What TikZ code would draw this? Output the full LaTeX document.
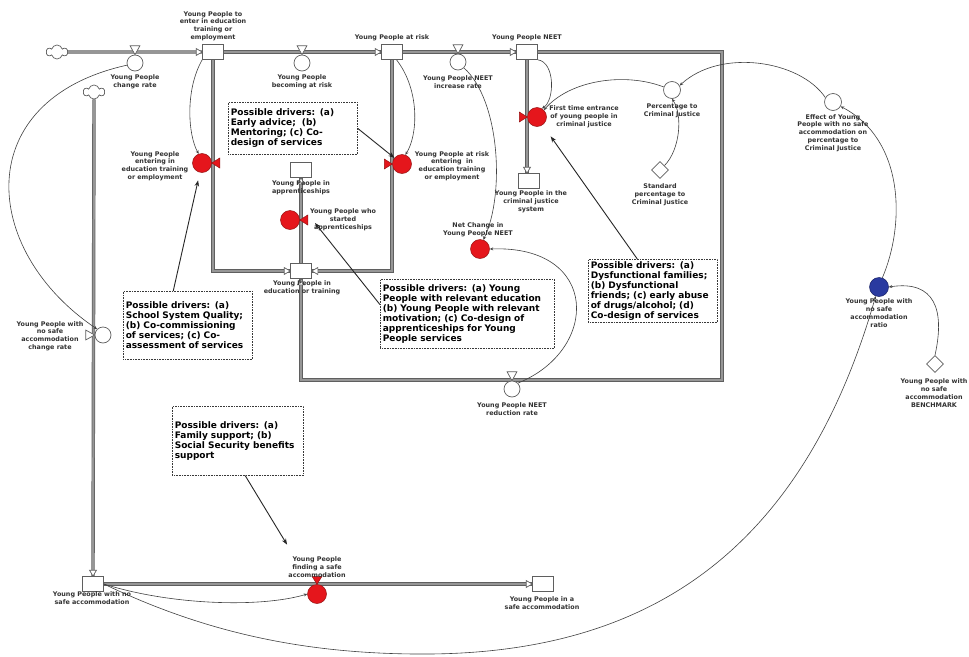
\documentclass[tikz,border=0pt]{standalone}
\usepackage{fontspec}
\setmainfont{DejaVu Sans}
\usetikzlibrary{arrows.meta,shapes.geometric,shapes.symbols}
\pgfdeclarelayer{bg}
\pgfsetlayers{bg,main}
\newcommand\lblfont{\fontsize{6.4}{7.8}\selectfont\bfseries}
\newcommand\drvfont{\fontsize{9}{10}\selectfont\bfseries}
\definecolor{vred}{RGB}{229,22,28}
\definecolor{vredline}{RGB}{150,20,20}
\definecolor{vblue}{RGB}{42,58,160}
\definecolor{vblueline}{RGB}{22,30,100}
\definecolor{pipeedge}{RGB}{95,95,95}
\definecolor{pipefill}{RGB}{150,150,150}
\definecolor{linkgray}{RGB}{65,65,65}

\begin{document}
\begin{tikzpicture}[x=1pt,y=-1pt,
  stock/.style={draw=pipeedge, line width=0.7pt, fill=white, minimum width=21pt, minimum height=15pt, inner sep=0pt},
  valve/.style={circle, draw=pipeedge, line width=0.7pt, fill=white, minimum size=16pt, inner sep=0pt},
  conv/.style={circle, draw=pipeedge, line width=0.7pt, fill=white, minimum size=17pt, inner sep=0pt},
  cnst/.style={diamond, draw=pipeedge, line width=0.7pt, fill=white, minimum size=17pt, inner sep=0pt},
  redvalve/.style={circle, draw=vredline, line width=0.5pt, fill=vred, minimum size=19pt, inner sep=0pt},
  bluevar/.style={circle, draw=vblueline, line width=0.5pt, fill=vblue, minimum size=19pt, inner sep=0pt},
  vtri/.style={draw=pipeedge, line width=0.7pt, fill=white, line join=round},
  rtri/.style={draw=vredline, line width=0.5pt, fill=vred},
  ptip/.style={draw=pipeedge, line width=0.7pt, fill=white},
  cloudshape/.style={cloud, cloud puffs=6, draw=pipeedge, line width=0.7pt, fill=white, minimum width=21pt, minimum height=14pt, inner sep=0pt},
  pipe/.style={draw=pipeedge, line width=0.7pt, double=pipefill, double distance=2pt},
  link/.style={draw=linkgray, line width=0.6pt, -{Stealth[length=3.5pt,width=3pt]}},
  driver/.style={draw=black!85, line width=0.9pt, -{Stealth[length=6pt,width=4.5pt]}},
  lbl/.style={font=\lblfont, align=center, text=black!80, inner sep=0pt},
  drvbox/.style={draw=gray!45!black, densely dotted, line width=0.6pt, fill=white, anchor=north west, align=left, inner xsep=2.5pt, inner ysep=0pt, font=\drvfont, text=black}
]
\useasboundingbox (0,0) rectangle (969,656);
\begin{pgfonlayer}{bg}
  \fill[white] (0,0) rectangle (969,656);
\end{pgfonlayer}

% ---------- stocks ----------
\node[stock] (sEnter)  at (213,52)  {};
\node[stock] (sRisk)   at (392,52)  {};
\node[stock] (sNEET)   at (527,52)  {};
\node[stock] (sApp)    at (301,170) {};
\node[stock] (sEdu)    at (301,271) {};
\node[stock] (sCJ)     at (529,181) {};
\node[stock] (sNoSafe) at (93,584)  {};
\node[stock] (sSafe)   at (543,584) {};

% ---------- sources ----------
\node[cloudshape] (cA) at (57,52) {};
\node[cloudshape] (cB) at (94,92) {};

% ---------- flow valves ----------
\node[valve] (vChange)   at (135,63)  {};
\node[valve] (vBecome)   at (302,63)  {};
\node[valve] (vIncrease) at (458,62)  {};
\node[valve] (vReduce)   at (512,389) {};
\node[valve] (vNoSafe)   at (103,335) {};

\node[redvalve] (rEnter) at (202,163) {};
\node[redvalve] (rRisk)  at (402,164) {};
\node[redvalve] (rFirst) at (537,117) {};
\node[redvalve] (rApp)   at (290,220) {};
\node[redvalve] (rSafe)  at (317,594) {};

% ---------- auxiliaries ----------
\node[redvalve] (rNet)   at (480,249) {};
\node[conv]     (cPct)   at (672,90)  {};
\node[conv]     (cEffect) at (833,102) {};
\node[bluevar]  (cRatio) at (879,287) {};
\node[cnst]     (dStd)   at (660,170) {};
\node[cnst]     (dBench) at (935,364) {};

\coordinate (loopNE) at (722,52);
\coordinate (loopSE) at (722,380);
\coordinate (loopSW) at (301,380);
\coordinate (innerL) at (213,271);
\coordinate (innerR) at (392,271);
\coordinate (loopLow) at (430,654);

% ---------- pipes and information links ----------
\begin{pgfonlayer}{bg}
  \draw[pipe] (cA.east) -- (sEnter.west);
  \draw[pipe] (sEnter.east) -- (sRisk.west);
  \draw[pipe] (sRisk.east) -- (sNEET.west);
  \draw[pipe] (sNEET.east) -- (loopNE) -- (loopSE) -- (loopSW) -- (sEdu.south);
  \draw[pipe] (sEnter.south) -- (innerL) -- (sEdu.west);
  \draw[pipe] (sRisk.south) -- (innerR) -- (sEdu.east);
  \draw[pipe] (sEdu.north) -- (sApp.south);
  \draw[pipe] (sNEET.south) -- (sNEET.south |- sCJ.north);
  \draw[pipe] (cB.south) -- (sNoSafe.north);
  \draw[pipe] (sNoSafe.east) -- (sSafe.west);

  \draw[link] (vChange.195) .. controls (-30,100) and (-20,250) .. (vNoSafe.135);
  \draw[link] (sEnter.south west) .. controls (185,90) and (188,135) .. (rEnter.110);
  \draw[link] (sRisk.300) .. controls (420,90) and (418,135) .. (rRisk.70);
  \draw[link] (sNEET.south east) .. controls (555,62) and (555,100) .. (rFirst.60);
  \draw[link] (vIncrease.315) .. controls (500,100) and (505,195) .. (rNet.70);
  \draw[link] (vReduce.45) .. controls (600,350) and (600,245) .. (rNet.east);
  \draw[link] (cPct.160) .. controls (625,72) and (570,80) .. (rFirst.45);
  \draw[link] (dStd.45) .. controls (680,150) and (683,115) .. (cPct.south);
  \draw[link] (cEffect.150) .. controls (800,60) and (720,48) .. (cPct.30);
  \draw[link] (cRatio.70) .. controls (905,225) and (905,140) .. (cEffect.330);
  \draw[link] (dBench.north) .. controls (945,310) and (935,280) .. (cRatio.east);
  \draw[link] (sNoSafe.east) .. controls (200,630) and (300,655) .. (loopLow)
                .. controls (640,652) and (800,560) .. (cRatio.250);
  \draw[link] (sNoSafe.east) .. controls (170,605) and (260,608) .. (rSafe.west);
\end{pgfonlayer}

% ---------- valve throttles ----------
\foreach \v in {vChange,vBecome,vIncrease,vReduce}
  \draw[vtri] (\v.north) -- ++(-5,-9) -- ++(10,0) -- cycle;
\draw[vtri] (vNoSafe.west) -- ++(-9,-5) -- ++(0,10) -- cycle;
\draw[rtri] (rEnter.east) -- ++(8,-5) -- ++(0,10) -- cycle;
\draw[rtri] (rApp.east) -- ++(8,-5) -- ++(0,10) -- cycle;
\draw[rtri] (rRisk.west) -- ++(-8,-5) -- ++(0,10) -- cycle;
\draw[rtri] (rFirst.west) -- ++(-8,-5) -- ++(0,10) -- cycle;
\draw[rtri] (rSafe.north) -- ++(-5,-8) -- ++(10,0) -- cycle;

% ---------- pipe heads ----------
\foreach \s in {sEnter,sRisk,sNEET,sEdu,sSafe}
  \draw[ptip] (\s.west) -- ++(-6,-3.5) -- ++(0,7) -- cycle;
\draw[ptip] (sEdu.east) -- ++(6,-3.5) -- ++(0,7) -- cycle;
\draw[ptip] (sEdu.south) -- ++(-3.5,6) -- ++(7,0) -- cycle;
\draw[ptip] (sApp.south) -- ++(-3.5,6) -- ++(7,0) -- cycle;
\draw[ptip] (sNEET.south |- sCJ.north) -- ++(-3.5,-6) -- ++(7,0) -- cycle;
\draw[ptip] (sNoSafe.north) -- ++(-3.5,-6) -- ++(7,0) -- cycle;

% ---------- labels ----------
\node[lbl] (lEnterTop) at (213,26)  {Young People to\\enter in education\\training or\\employment};
\node[lbl] (lChange)   at (135,82)  {Young People\\change rate};
\node[lbl] (lBecome)   at (302,82)  {Young People\\becoming at risk};
\node[lbl] (lRisk)     at (392,38)  {Young People at risk};
\node[lbl] (lIncrease) at (458,82)  {Young People NEET\\increase rate};
\node[lbl] (lNEET)     at (527,38)  {Young People NEET};
\node[lbl] (lFirst)    at (584,117) {First time entrance\\of young people in\\criminal justice};
\node[lbl] (lPct)      at (672,111) {Percentage to\\Criminal Justice};
\node[lbl] (lStd)      at (660,195) {Standard\\percentage to\\Criminal Justice};
\node[lbl] (lEffect)   at (833,133) {Effect of Young\\People with no safe\\accommodation on\\percentage to\\Criminal Justice};
\node[lbl] (lREnter)   at (155,166) {Young People\\entering in\\education training\\or employment};
\node[lbl] (lRRisk)    at (452,166) {Young People at risk\\entering \ in\\education training\\or employment};
\node[lbl] (lApp)      at (301,188) {Young People in\\apprenticeships};
\node[lbl] (lRApp)     at (343,220) {Young People who\\started\\apprenticeships};
\node[lbl] (lCJ)       at (531,202) {Young People in the\\criminal justice\\system};
\node[lbl] (lNet)      at (478,230) {Net Change in\\Young People NEET};
\node[lbl] (lEdu)      at (302,288) {Young People in\\education or training};
\node[lbl] (lNoSafeR)  at (50,336)  {Young People with\\no safe\\accommodation\\change rate};
\node[lbl] (lReduce)   at (512,409) {Young People NEET\\reduction rate};
\node[lbl] (lRatio)    at (879,313) {Young People with\\no safe\\accommodation\\ratio};
\node[lbl] (lBench)    at (934,393) {Young People with\\no safe\\accommodation\\BENCHMARK};
\node[lbl] (lRSafe)    at (317,567) {Young People\\finding a safe\\accommodation};
\node[lbl] (lNoSafe)   at (92,598)  {Young People with no\\safe accommodation};
\node[lbl] (lSafe)     at (542,603) {Young People in a\\safe accommodation};

% ---------- driver notes ----------
\node[drvbox, text width=124pt, minimum height=52pt] (b1) at (228,102)
  {Possible drivers: (a)\\Early advice; \ (b)\\Mentoring; (c) Co-\\design of services};
\node[drvbox, text width=124pt, minimum height=68pt] (b2) at (123,291)
  {Possible drivers: (a)\\School System Quality;\\(b) Co-commissioning\\of services; (c) Co-\\assessment of services};
\node[drvbox, text width=169pt, minimum height=69pt] (b3) at (380,279)
  {Possible drivers: (a) Young\\People with relevant education\\(b) Young People with relevant\\motivation; (c) Co-design of\\apprenticeships for Young\\People services};
\node[drvbox, text width=124pt, minimum height=63pt] (b4) at (588,259)
  {Possible drivers: (a)\\Dysfunctional families;\\(b) Dysfunctional\\friends; (c) early abuse\\of drugs/alcohol; (d)\\Co-design of services};
\node[drvbox, text width=126pt, minimum height=69pt] (b5) at (172,406)
  {Possible drivers: (a)\\Family support; (b)\\Social Security benefits\\support};

\draw[driver] (b1.east) -- (rRisk);
\draw[driver, shorten >=8pt] (b2.113) -- (rEnter);
\draw[driver] (b3.174) -- ([shift={(25,3)}]rApp.center);
\draw[driver, shorten >=14pt] (b4.116) -- (rFirst);
\draw[driver, shorten >=48pt] (b5.282) -- (rSafe);
\end{tikzpicture}
\end{document}
